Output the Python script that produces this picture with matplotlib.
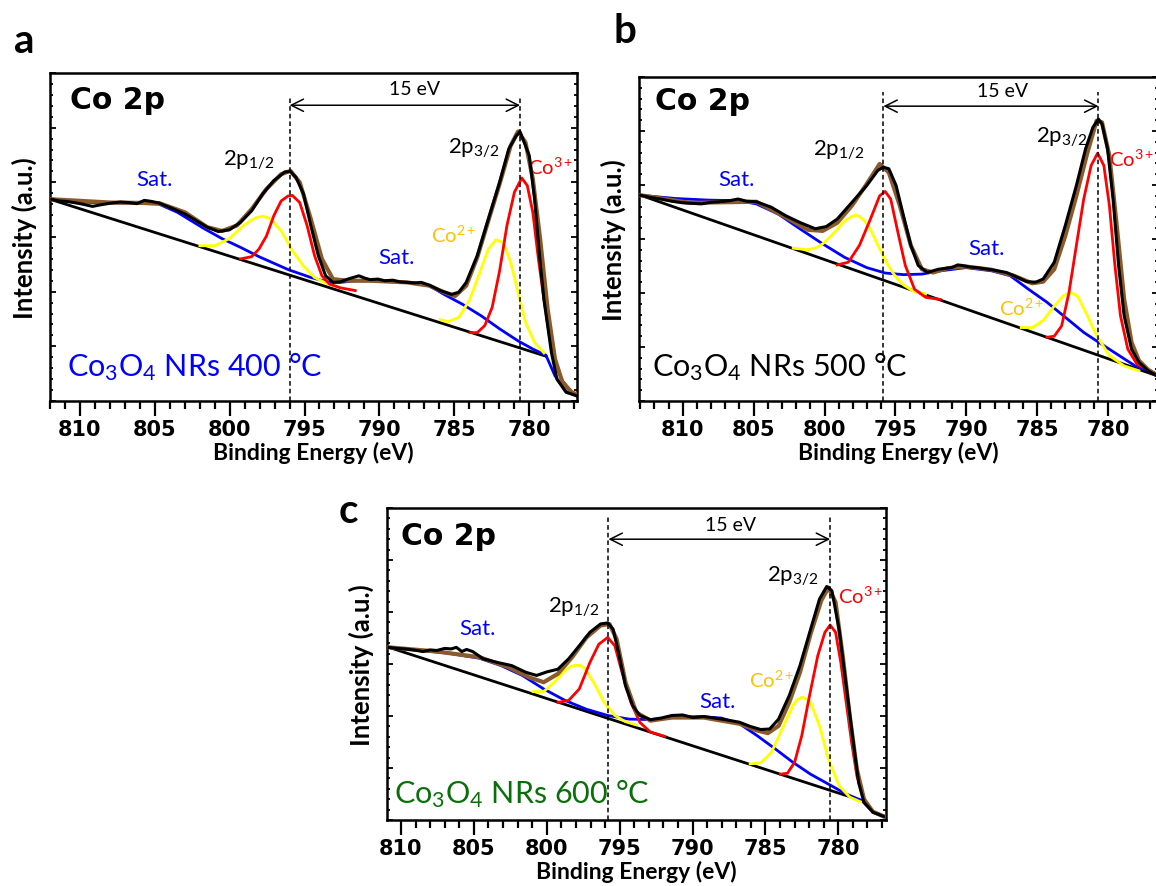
import numpy as np
import matplotlib
matplotlib.use('Agg')
import matplotlib.pyplot as plt
from matplotlib.ticker import MultipleLocator

plt.rcParams['font.family'] = ['Lato', 'DejaVu Sans']
plt.rcParams['mathtext.fontset'] = 'custom'
plt.rcParams['mathtext.rm'] = 'Lato'
plt.rcParams['mathtext.it'] = 'Lato:italic'
plt.rcParams['mathtext.bf'] = 'Lato:bold'

# binding energy tick labels (eV)
x_ticks = [810, 805, 800, 795, 790, 785, 780]

# ---------------- panel a : 400 C ----------------
a_peaks = [796.0, 780.6]
a_spec = [(811.88, 3.69), (811.4, 3.66), (810.9, 3.65), (810.40, 3.63), (809.8, 3.60), (809.16, 3.56),
          (808.6, 3.59), (807.93, 3.62), (807.3, 3.64), (806.69, 3.63), (806.2, 3.61), (805.70, 3.67),
          (805.2, 3.65), (804.71, 3.62), (803.72, 3.51), (802.98, 3.42), (802.24, 3.30), (801.50, 3.18),
          (800.76, 3.10), (800.02, 3.13), (799.27, 3.27), (798.53, 3.48), (797.79, 3.79), (797.05, 4.03),
          (796.31, 4.19), (795.94, 4.20), (795.57, 4.09), (795.07, 3.79), (794.58, 3.21), (794.08, 2.66),
          (793.59, 2.29), (793.10, 2.17), (792.60, 2.18), (792.11, 2.23), (791.37, 2.29), (791.0, 2.25),
          (790.62, 2.22), (790.1, 2.23), (789.64, 2.20), (789.1, 2.21), (788.65, 2.18), (787.66, 2.16),
          (787.2, 2.17), (786.67, 2.12), (785.93, 2.02), (785.19, 1.95), (784.69, 1.99), (784.20, 2.17),
          (783.46, 2.66), (782.72, 3.33), (781.97, 4.00), (781.36, 4.61), (780.86, 4.85), (780.61, 4.93),
          (780.24, 4.67), (779.99, 4.49), (779.63, 3.69), (779.26, 2.54), (779.01, 1.86), (778.51, 0.89),
          (778.14, 0.40), (777.53, 0.16), (776.66, 0.08)]
a_env = [(811.88, 3.69), (807.93, 3.63), (804.71, 3.62), (802.98, 3.45), (801.50, 3.18), (800.51, 3.11),
         (799.52, 3.21), (798.53, 3.51), (797.54, 3.88), (796.56, 4.15), (795.94, 4.21), (795.32, 4.00),
         (794.58, 3.33), (793.84, 2.60), (793.10, 2.23), (792.11, 2.20), (790.62, 2.20), (788.15, 2.17),
         (786.67, 2.11), (785.68, 1.99), (784.94, 1.92), (784.20, 2.11), (783.46, 2.63), (782.72, 3.30),
         (781.97, 3.97), (781.23, 4.67), (780.74, 4.93), (780.24, 4.73), (779.75, 4.06), (779.26, 2.96),
         (778.76, 1.68), (778.27, 0.77), (777.77, 0.34), (777.16, 0.16), (776.66, 0.10)]
a_sat = [(811.88, 3.69), (809.16, 3.63), (806.69, 3.62), (804.71, 3.60), (803.48, 3.45), (801.75, 3.16),
         (800.51, 2.97), (799.27, 2.81), (798.04, 2.64), (796.06, 2.40), (794.58, 2.26), (793.34, 2.17),
         (792.60, 2.17), (791.61, 2.20), (790.62, 2.20), (789.14, 2.18), (787.66, 2.16), (786.67, 2.11),
         (785.68, 1.95), (784.45, 1.77), (783.21, 1.56), (781.97, 1.32), (780.74, 1.10), (779.75, 0.95),
         (778.88, 0.84), (778.27, 0.46), (777.53, 0.17), (776.66, 0.08)]
a_base = [(811.88, 3.68), (778.88, 0.82)]
a_co2 = [[(801.99, 2.84), (801.00, 2.84), (800.02, 2.97), (799.03, 3.22), (798.29, 3.35), (797.79, 3.38),
          (797.30, 3.34), (796.56, 3.11), (795.81, 2.75), (795.07, 2.47), (794.33, 2.26), (793.59, 2.16),
          (792.97, 2.10)],
         [(785.93, 1.49), (785.43, 1.45), (784.69, 1.53), (783.95, 1.86), (783.21, 2.41), (782.72, 2.78),
          (782.22, 2.95), (781.73, 2.90), (781.23, 2.54), (780.74, 1.99), (780.24, 1.44), (779.63, 1.07),
          (779.01, 0.88)]]
a_co3 = [[(799.27, 2.60), (798.53, 2.64), (798.04, 2.78), (797.54, 3.02), (797.05, 3.39), (796.56, 3.66),
          (796.1, 3.75), (795.81, 3.76), (795.32, 3.63), (794.83, 3.21), (794.33, 2.66), (793.84, 2.29),
          (793.34, 2.14), (792.60, 2.07), (791.61, 2.02)],
         [(783.95, 1.25), (783.46, 1.25), (782.96, 1.38), (782.47, 1.71), (781.97, 2.38), (781.48, 3.21),
          (780.98, 3.82), (780.49, 4.08), (780.12, 3.94), (779.75, 3.45), (779.38, 2.60), (779.01, 1.86),
          (778.64, 1.19), (778.27, 0.70), (777.77, 0.37), (777.16, 0.17), (776.66, 0.10)]]

# ---------------- panel b : 500 C ----------------
b_peaks = [795.85, 780.67]
b_spec = [(812.98, 3.81), (812.3, 3.77), (811.55, 3.74), (810.8, 3.70), (809.99, 3.67), (809.3, 3.66),
          (808.70, 3.65), (808.0, 3.68), (807.40, 3.69), (806.7, 3.71), (806.10, 3.74), (805.5, 3.70),
          (804.81, 3.69), (803.77, 3.59), (802.73, 3.43), (801.69, 3.30), (800.65, 3.19), (799.88, 3.23),
          (799.10, 3.37), (798.06, 3.68), (797.02, 3.99), (796.24, 4.27), (795.85, 4.33), (795.46, 4.30),
          (794.95, 3.99), (794.43, 3.43), (793.91, 2.88), (793.39, 2.51), (792.74, 2.38), (791.96, 2.44),
          (791.05, 2.47), (790.6, 2.52), (790.28, 2.51), (789.7, 2.48), (789.24, 2.47), (788.20, 2.43),
          (787.16, 2.38), (786.38, 2.29), (785.73, 2.21), (785.09, 2.20), (784.57, 2.26), (783.79, 2.57),
          (783.01, 3.25), (782.23, 3.99), (781.58, 4.67), (781.06, 5.07), (780.67, 5.22), (780.42, 5.13),
          (780.03, 4.67), (779.64, 3.74), (779.25, 2.51), (778.86, 1.58), (778.34, 0.96), (777.82, 0.72),
          (777.17, 0.56), (776.57, 0.47)]
b_env = [(812.98, 3.81), (809.48, 3.67), (804.81, 3.69), (802.73, 3.40), (801.17, 3.17), (800.13, 3.15),
         (799.10, 3.30), (798.06, 3.62), (797.02, 4.02), (796.11, 4.39), (795.46, 4.23), (794.69, 3.62),
         (793.91, 2.88), (793.13, 2.44), (792.35, 2.38), (791.31, 2.46), (790.02, 2.49), (788.20, 2.43),
         (786.64, 2.32), (785.35, 2.18), (784.57, 2.21), (783.79, 2.44), (783.01, 3.06), (782.23, 3.80),
         (781.45, 4.60), (780.80, 5.19), (780.42, 5.16), (779.90, 4.54), (779.38, 3.25), (778.86, 1.89),
         (778.34, 1.09), (777.82, 0.75), (777.17, 0.58), (776.57, 0.48)]
b_sat = [(812.98, 3.81), (810.51, 3.75), (808.18, 3.72), (806.10, 3.71), (804.81, 3.65), (803.25, 3.46),
         (801.69, 3.18), (800.13, 2.91), (798.58, 2.66), (797.02, 2.47), (795.72, 2.37), (794.43, 2.34),
         (793.13, 2.35), (791.83, 2.41), (790.02, 2.47), (788.20, 2.41), (786.90, 2.32), (785.61, 2.07),
         (784.31, 1.83), (783.01, 1.55), (781.71, 1.27), (780.67, 1.09), (779.38, 0.87), (778.08, 0.65),
         (776.57, 0.50)]
b_base = [(812.98, 3.81), (776.57, 0.47)]
b_co2 = [[(802.21, 2.83), (801.17, 2.80), (800.6, 2.84), (800.13, 2.91), (799.6, 3.04), (799.10, 3.18),
          (798.6, 3.33), (798.06, 3.42), (797.8, 3.44), (797.54, 3.42), (797.15, 3.33), (796.76, 3.18),
          (796.37, 2.96), (795.98, 2.75), (795.59, 2.55), (795.20, 2.38), (794.8, 2.25), (794.43, 2.15),
          (793.65, 2.02), (792.87, 1.98)],
         [(786.12, 1.36), (785.35, 1.36), (784.57, 1.49), (783.79, 1.76), (783.14, 1.95), (782.85, 1.99),
          (782.62, 2.00), (782.35, 1.98), (782.10, 1.92), (781.45, 1.58), (780.80, 1.21), (779.90, 0.84),
          (778.86, 0.65), (777.82, 0.56)]]
b_co3 = [[(799.10, 2.52), (798.32, 2.57), (797.54, 2.88), (796.76, 3.37), (796.11, 3.80), (795.72, 3.88),
          (795.33, 3.74), (794.82, 3.12), (794.30, 2.51), (793.65, 2.07), (792.87, 1.92), (791.83, 1.88)],
         [(784.31, 1.18), (783.79, 1.20), (783.27, 1.39), (782.75, 2.01), (782.23, 2.88), (781.71, 3.74),
          (781.19, 4.36), (780.73, 4.59), (780.29, 4.36), (779.90, 3.62), (779.51, 2.51), (779.12, 1.58),
          (778.60, 0.96), (777.95, 0.68), (777.17, 0.58), (776.57, 0.50)]]

# ---------------- panel c : 600 C ----------------
c_peaks = [795.77, 780.56]
c_spec = [(810.83, 3.32), (810.3, 3.30), (809.73, 3.29), (809.1, 3.27), (808.51, 3.24), (808.0, 3.27),
          (807.54, 3.26), (807.0, 3.30), (806.56, 3.29), (806.2, 3.32), (805.83, 3.24), (805.5, 3.28),
          (805.09, 3.24), (804.36, 3.10), (803.39, 3.03), (802.41, 2.97), (801.43, 2.84), (800.70, 2.78),
          (799.97, 2.85), (799.24, 2.90), (798.50, 3.10), (797.77, 3.35), (797.04, 3.61), (796.31, 3.77),
          (795.82, 3.79), (795.45, 3.67), (795.08, 3.22), (794.60, 2.58), (794.11, 2.20), (793.62, 2.01),
          (792.89, 1.93), (792.16, 1.96), (791.42, 2.01), (790.69, 2.02), (789.96, 1.97), (789.23, 1.99),
          (788.49, 1.96), (787.76, 1.93), (786.78, 1.88), (786.05, 1.80), (785.32, 1.74), (784.71, 1.75),
          (784.10, 1.94), (783.37, 2.39), (782.63, 2.97), (781.90, 3.67), (781.29, 4.25), (780.80, 4.49),
          (780.44, 4.41), (779.95, 3.67), (779.46, 2.58), (778.97, 1.49), (778.61, 0.72), (778.24, 0.34),
          (777.63, 0.15), (776.90, 0.07)]
c_env = [(810.83, 3.32), (807.54, 3.24), (804.61, 3.13), (802.65, 2.94), (801.19, 2.74), (800.21, 2.65),
         (799.24, 2.81), (798.26, 3.13), (797.28, 3.51), (796.31, 3.74), (795.70, 3.77), (795.21, 3.48),
         (794.60, 2.65), (793.86, 2.07), (792.89, 1.91), (791.42, 1.97), (789.23, 1.97), (786.78, 1.85),
         (785.56, 1.72), (784.83, 1.67), (784.10, 1.81), (783.37, 2.26), (782.63, 2.84), (781.90, 3.58),
         (781.17, 4.22), (780.68, 4.47), (780.19, 4.19), (779.70, 3.16), (779.22, 2.01), (778.73, 0.98),
         (778.24, 0.40), (777.63, 0.16), (776.90, 0.07)]
c_sat = [(810.83, 3.32), (808.76, 3.26), (806.80, 3.21), (804.61, 3.11), (803.14, 2.97), (801.68, 2.78),
         (800.21, 2.52), (798.75, 2.30), (797.28, 2.13), (795.82, 2.01), (794.35, 1.94), (792.89, 1.93),
         (791.42, 1.97), (789.47, 1.99), (788.01, 1.96), (786.78, 1.85), (785.56, 1.62), (784.34, 1.37),
         (783.12, 1.11), (781.90, 0.88), (780.68, 0.69), (779.46, 0.50), (778.36, 0.37), (777.63, 0.15),
         (776.90, 0.07)]
c_base = [(810.83, 3.32), (778.36, 0.37)]
c_co2 = [[(800.94, 2.47), (800.21, 2.47), (799.48, 2.65), (798.75, 2.87), (798.35, 2.95), (798.01, 2.98),
          (797.70, 2.97), (797.40, 2.92), (796.79, 2.65), (796.06, 2.26), (795.33, 2.01), (794.60, 1.89),
          (793.86, 1.83)],
         [(786.05, 1.08), (785.32, 1.10), (784.59, 1.30), (783.85, 1.75), (783.12, 2.20), (782.80, 2.32),
          (782.51, 2.36), (782.20, 2.33), (781.90, 2.26), (781.29, 1.81), (780.68, 1.17), (779.95, 0.66),
          (779.22, 0.44), (778.48, 0.35)]]
c_co3 = [[(799.24, 2.26), (798.50, 2.30), (797.77, 2.52), (797.04, 3.03), (796.43, 3.38), (795.82, 3.51),
          (795.33, 3.35), (794.84, 2.84), (794.23, 2.26), (793.62, 1.88), (792.89, 1.69), (791.91, 1.61)],
         [(783.98, 0.88), (783.49, 0.90), (783.00, 1.11), (782.51, 1.62), (782.02, 2.33), (781.41, 3.16),
          (780.92, 3.61), (780.56, 3.75), (780.19, 3.61), (779.83, 3.03), (779.46, 2.26), (779.09, 1.49),
          (778.73, 0.85), (778.24, 0.40), (777.63, 0.16), (776.90, 0.08)]]

W, H = 1156, 887
fig = plt.figure(figsize=(W / 100, H / 100), dpi=100)


def xy(pts):
    arr = np.array(pts)
    return arr[:, 0], arr[:, 1]


def rect(left, top, right, bottom):
    return [left / W, 1 - bottom / H, (right - left) / W, (bottom - top) / H]


def draw_panel(ax, xlim, spec, env, sat, base, co2, co3, peaks, arrow_y, guide_top, txt, name, name_color):
    ax.plot(*xy(base), color='k', lw=2.0, zorder=2)
    ax.plot(*xy(sat), color='#0000FF', lw=2.0, zorder=3)
    for pk in co2:
        ax.plot(*xy(pk), color='#FFFF00', lw=2.0, zorder=4)
    for pk in co3:
        ax.plot(*xy(pk), color='#FF0000', lw=2.0, zorder=5)
    ax.plot(*xy(env), color='#8B5A2B', lw=3.0, zorder=6)
    ax.plot(*xy(spec), color='k', lw=2.2, zorder=7)

    for e in peaks:
        ax.plot([e, e], [0, guide_top], ls=(0, (3, 2)), color='k', lw=1.1, zorder=8)
    ax.annotate('', xy=(peaks[1], arrow_y), xytext=(peaks[0], arrow_y),
                arrowprops=dict(arrowstyle='<->', color='k', lw=1.1, mutation_scale=22,
                                shrinkA=0, shrinkB=0))

    ax.text(*txt['co2p'], 'Co 2p', family='DejaVu Sans', weight='bold', fontsize=21.5,
            ha='left', va='center')
    ax.text(*txt['sep'], '15 eV', fontsize=14, ha='center', va='center')
    ax.text(*txt['p12'], r'2p$_{1/2}$', fontsize=16, ha='center', va='center')
    ax.text(*txt['p32'], r'2p$_{3/2}$', fontsize=16, ha='center', va='center')
    ax.text(*txt['co3'], r'Co$^{3+}$', fontsize=14.5, color='#FF0000', ha='center', va='center')
    ax.text(*txt['co2'], r'Co$^{2+}$', fontsize=14.5, color='#FFC000', ha='center', va='center')
    ax.text(*txt['sat1'], 'Sat.', fontsize=16, color='#0000FF', ha='center', va='center')
    ax.text(*txt['sat2'], 'Sat.', fontsize=16, color='#0000FF', ha='center', va='center')
    ax.text(*txt['name'], name, fontsize=22, color=name_color, ha='left', va='center')

    ax.set_xlim(*xlim)
    ax.set_ylim(0, 6)
    ax.set_xticks(x_ticks)
    ax.set_xticklabels([str(t) for t in x_ticks], family='DejaVu Sans', weight='bold', fontsize=15)
    ax.xaxis.set_minor_locator(MultipleLocator(1))
    ax.yaxis.set_major_locator(MultipleLocator(1))
    ax.yaxis.set_minor_locator(MultipleLocator(0.2))
    ax.tick_params(axis='x', which='both', direction='out', top=False, width=1.6, pad=2)
    ax.tick_params(axis='x', which='major', length=11)
    ax.tick_params(axis='x', which='minor', length=6)
    ax.tick_params(axis='y', which='both', direction='in', left=True, right=True,
                   labelleft=False, width=1.3)
    ax.tick_params(axis='y', which='major', length=4.5)
    ax.tick_params(axis='y', which='minor', length=2.2)
    for sp in ax.spines.values():
        sp.set_linewidth(1.8)
    ax.set_xlabel('Binding Energy (eV)', fontsize=16.5, fontweight='bold', labelpad=1)
    ax.set_ylabel('Intensity (a.u.)', fontsize=18.5, fontweight='bold', labelpad=9)


ax_a = fig.add_axes(rect(50, 74, 577, 402))
draw_panel(ax_a, (812.0, 776.8), a_spec, a_env, a_sat, a_base, a_co2, a_co3, a_peaks, 5.41, 5.55,
           dict(co2p=(810.64, 5.52), sep=(787.66, 5.71), p12=(798.73, 4.43), p32=(783.70, 4.64),
                co3=(778.56, 4.30), co2=(785.06, 3.05), sat1=(805.03, 4.06), sat2=(788.84, 2.63),
                name=(810.89, 0.64)),
           r'Co$_3$O$_4$ NRs 400 °C', '#0000FF')

ax_b = fig.add_axes(rect(639, 78, 1158, 402))
draw_panel(ax_b, (813.09, 776.47), b_spec, b_env, b_sat, b_base, b_co2, b_co3, b_peaks, 5.46, 5.72,
           dict(co2p=(811.94, 5.56), sep=(787.42, 5.75), p12=(798.97, 4.67), p32=(783.27, 4.90),
                co3=(778.35, 4.49), co2=(786.12, 1.73), sat1=(806.23, 4.11), sat2=(788.59, 2.84),
                name=(812.20, 0.65)),
           r'Co$_3$O$_4$ NRs 500 °C', 'black')

ax_c = fig.add_axes(rect(387, 509, 886, 821))
draw_panel(ax_c, (810.96, 776.73), c_spec, c_env, c_sat, c_base, c_co2, c_co3, c_peaks, 5.40, 5.85,
           dict(co2p=(809.98, 5.47), sep=(787.39, 5.69), p12=(798.14, 4.12), p32=(783.12, 4.71),
                co3=(778.48, 4.33), co2=(784.59, 2.70), sat1=(804.73, 3.70), sat2=(788.30, 2.28),
                name=(810.47, 0.53)),
           r'Co$_3$O$_4$ NRs 600 °C', '#0A6E0A')

for letter, px, py in [('a', 14, 53), ('b', 614, 43), ('c', 339, 523)]:
    fig.text(px / W, 1 - py / H, letter, fontsize=29, fontweight='bold', ha='left', va='baseline')

fig.savefig('out.png', dpi=100)
